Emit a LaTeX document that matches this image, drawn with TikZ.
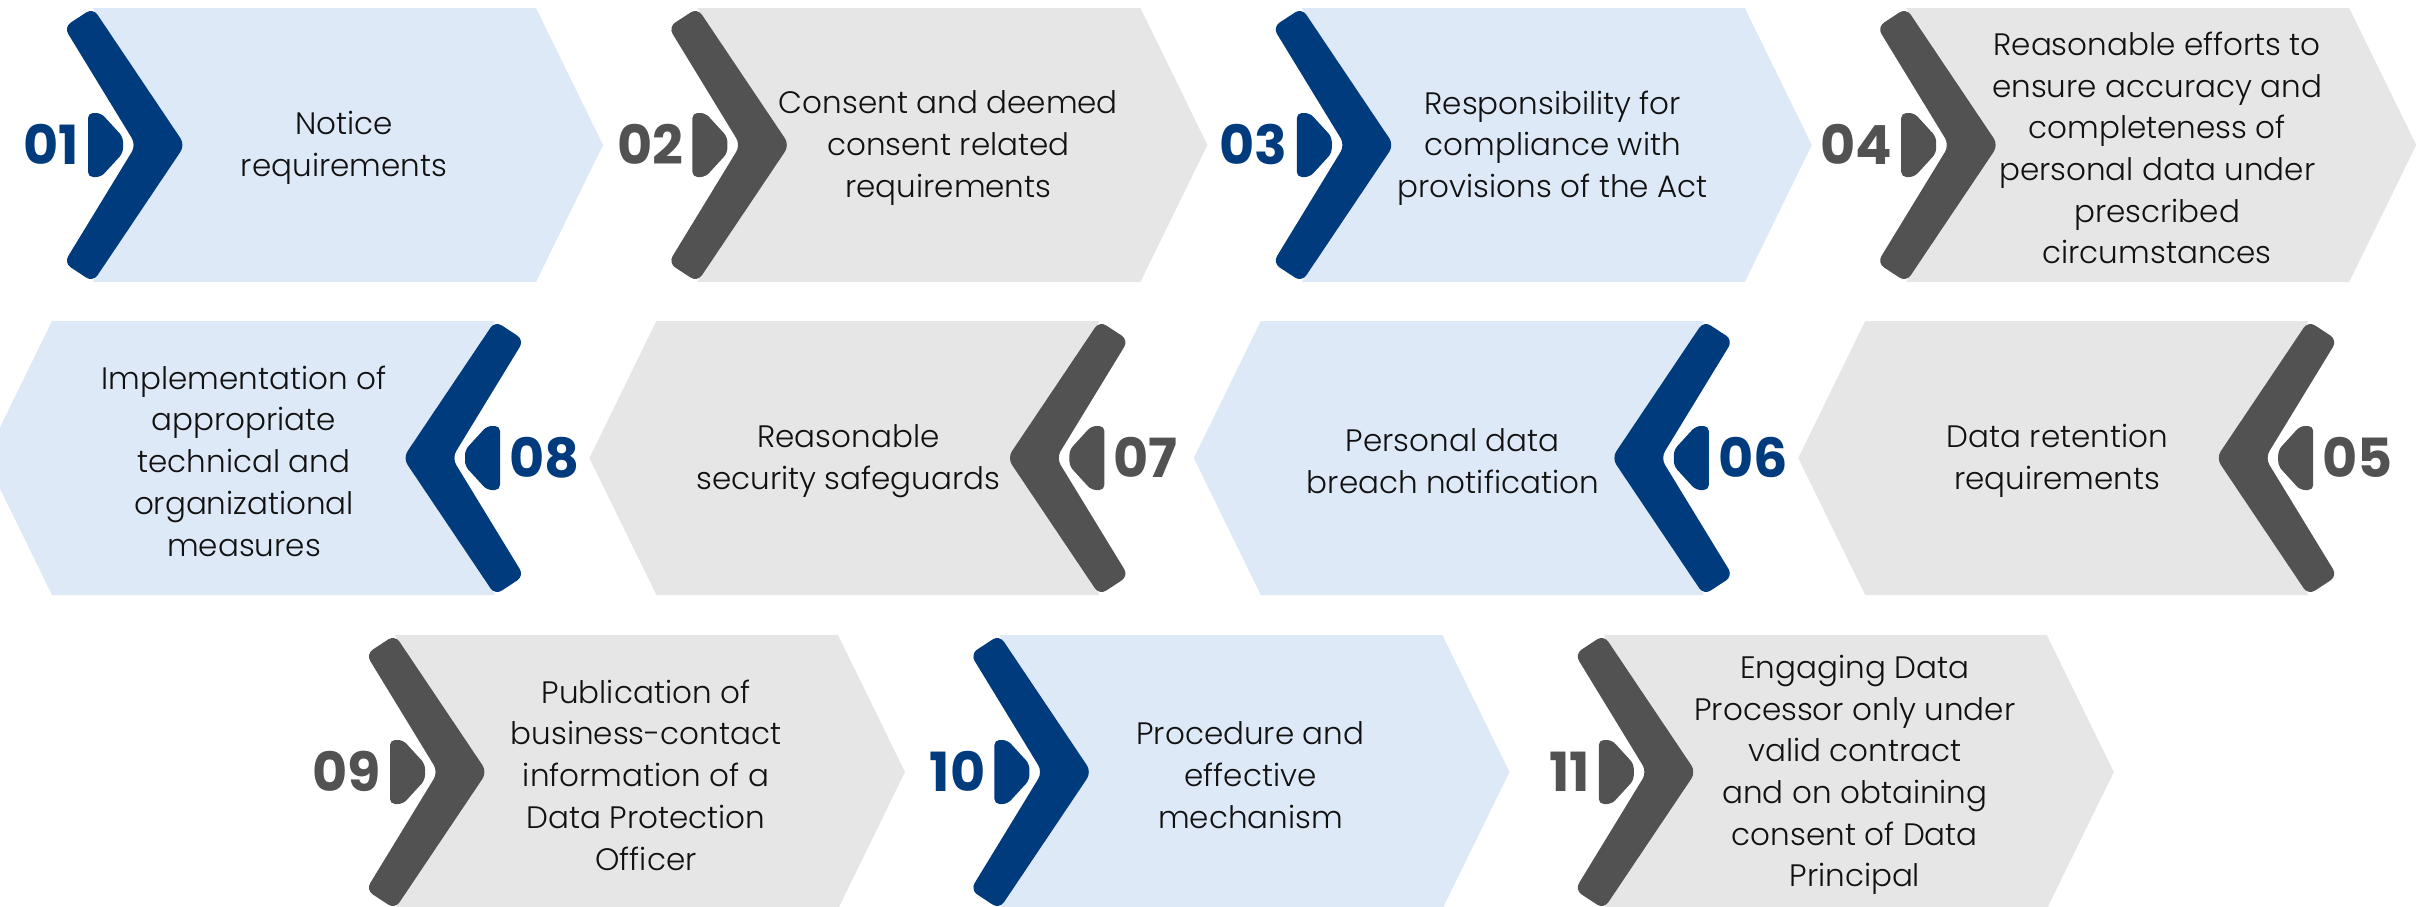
\documentclass[tikz,border=0pt]{standalone}
\usepackage{fontspec}
\setmainfont{Poppins}
\newfontfamily\lightfont{Poppins Light}
\definecolor{cblue}{HTML}{003B7E}
\definecolor{cgray}{HTML}{525252}
\definecolor{lblue}{HTML}{DDE9F6}
\definecolor{lgray}{HTML}{E6E6E6}
\definecolor{ink}{HTML}{111111}
\tikzset{
  boxtxt/.style={align=center, text=ink, font=\lightfont\fontsize{31}{41.7}\selectfont, inner sep=0pt},
  boxnum/.style={font=\fontsize{54}{54}\selectfont\bfseries, inner sep=0pt},
}
% #1 name, #2 dir, #3 x, #4 y, #5 light fill, #6 dark, #7 number anchor, #8 number, #9 text
\newcommand\stepitem[9]{%
  \begin{scope}[shift={(#3,#4)}, xscale=#2]
    \fill[#5] (29,-137) -- (472,-137) -- (539,0) -- (472,137) -- (29,137) -- (90,0) -- cycle;
    \fill[#6, rounded corners=8] (0,-118) -- (29,-137) -- (121,0) -- (29,137) -- (0,118) -- (72,0) -- cycle;
    \fill[#6, rounded corners=5] (24,-32) -- (37,-32) -- (59,-8) -- (59,8) -- (37,32) -- (24,32) -- cycle;
    \node[boxnum, text=#6, anchor=#7] (#1-num) at (15,19) {#8};
    \node[boxtxt] (#1-txt) at (280,3) {#9};
  \end{scope}}
\begin{document}
\begin{tikzpicture}[x=1pt, y=-1pt]
  \useasboundingbox (0,0) rectangle (2433,906);
  % row 1
  \stepitem{s01}{1}{64}{145}{lblue}{cblue}{base east}{01}{Notice\\requirements}
  \stepitem{s02}{1}{668.4}{145}{lgray}{cgray}{base east}{02}{Consent and deemed\\consent related\\requirements}
  \stepitem{s03}{1}{1272.8}{145}{lblue}{cblue}{base east}{03}{Responsibility for\\compliance with\\provisions of the Act}
  \stepitem{s04}{1}{1877.2}{145}{lgray}{cgray}{base east}{04}{Reasonable efforts to\\ensure accuracy and\\completeness of\\personal data under\\prescribed\\circumstances}
  % row 2
  \stepitem{s08}{-1}{524}{458}{lblue}{cblue}{base west}{08}{Implementation of\\appropriate\\technical and\\organizational\\measures}
  \stepitem{s07}{-1}{1128.4}{458}{lgray}{cgray}{base west}{07}{Reasonable\\security safeguards}
  \stepitem{s06}{-1}{1732.8}{458}{lblue}{cblue}{base west}{06}{Personal data\\breach notification}
  \stepitem{s05}{-1}{2337.2}{458}{lgray}{cgray}{base west}{05}{Data retention\\requirements}
  % row 3
  \stepitem{s09}{1}{366}{772}{lgray}{cgray}{base east}{09}{Publication of\\business-contact\\information of a\\Data Protection\\Officer}
  \stepitem{s10}{1}{970.4}{772}{lblue}{cblue}{base east}{10}{Procedure and\\effective\\mechanism}
  \stepitem{s11}{1}{1574.8}{772}{lgray}{cgray}{base east}{11}{Engaging Data\\Processor only under\\valid contract\\and on obtaining\\consent of Data\\Principal}
\end{tikzpicture}
\end{document}
